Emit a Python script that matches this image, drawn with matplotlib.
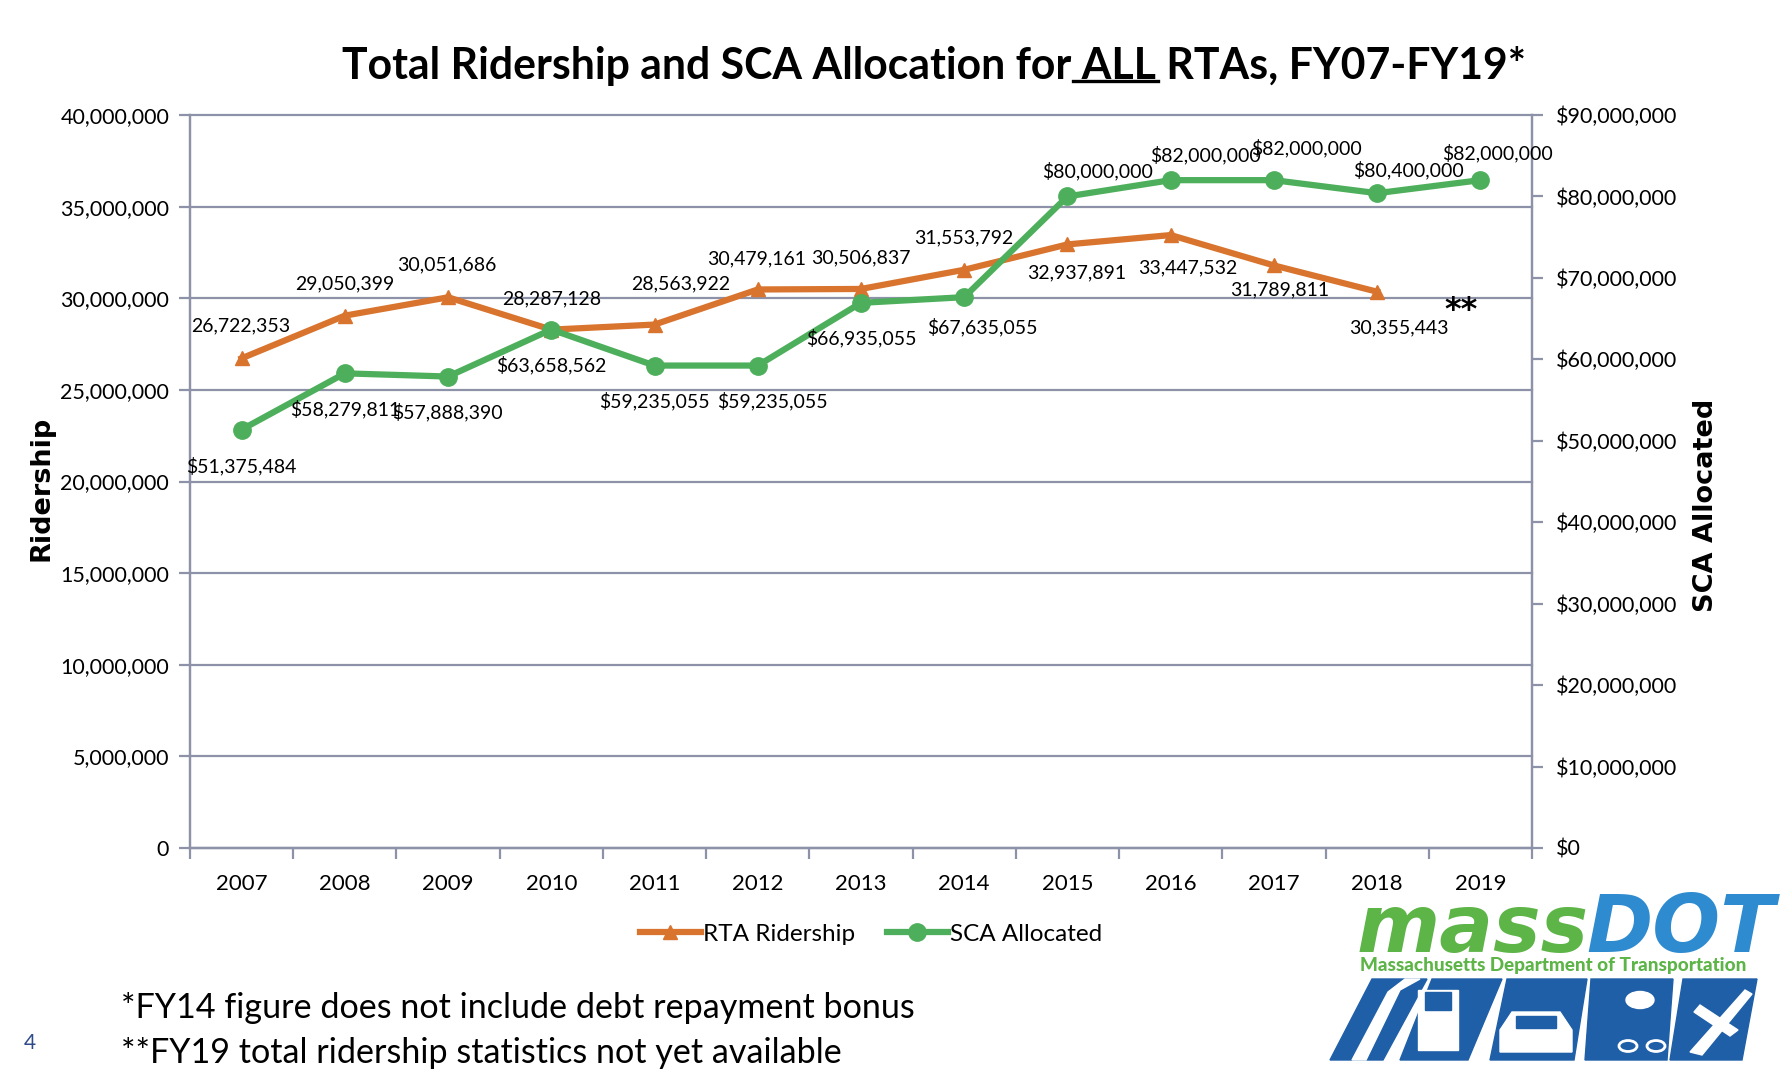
import matplotlib
matplotlib.use("Agg")
import matplotlib.pyplot as plt
from matplotlib.lines import Line2D
from matplotlib.patches import Polygon, Circle, Rectangle
from matplotlib.ticker import FuncFormatter, FixedLocator

# ---------------- data ----------------
years = ["2007", "2008", "2009", "2010", "2011", "2012", "2013",
         "2014", "2015", "2016", "2017", "2018", "2019"]
ridership = [26722353, 29050399, 30051686, 28287128, 28563922, 30479161,
             30506837, 31553792, 32937891, 33447532, 31789811, 30355443]
sca = [51375484, 58279811, 57888390, 63658562, 59235055, 59235055,
       66935055, 67635055, 80000000, 82000000, 82000000, 80400000, 82000000]
left_ticks = [0, 5000000, 10000000, 15000000, 20000000, 25000000,
              30000000, 35000000, 40000000]
right_ticks = [0, 10000000, 20000000, 30000000, 40000000, 50000000,
               60000000, 70000000, 80000000, 90000000]

# label offsets in pixels (x, y up)
rid_off = [(-1, 32), (0, 32), (-1, 32), (0, 31), (26, 41), (-1, 31), (0, 31),
           (0, 32), (9, -28), (17, -33), (6, -24), (22, -36)]
sca_off = [(0, -36), (0, -36), (-1, -36), (0, -36), (0, -35), (15, -35),
           (0, -35), (18, -30), (30, 25), (35, 25), (33, 32), (31, 23), (17, 27)]

W, H = 1780, 1084
FONT = "Lato"
ORANGE = "#D9742E"
GREEN = "#4DAF5B"
GRID = "#8E92A8"

fig = plt.figure(figsize=(W / 100, H / 100), dpi=100)
fig.patch.set_facecolor("white")


def fx(x):
    return x / W


def fy(y):
    return 1 - y / H


L, R, T, B = 190, 1532, 115, 848
ax = fig.add_axes([fx(L), fy(B), (R - L) / W, (B - T) / H])
ax2 = ax.twinx()

x = list(range(len(years)))
ax.set_xlim(-0.5, len(years) - 0.5)
ax.set_ylim(0, 40000000)
ax2.set_ylim(0, 90000000)

for v in left_ticks:
    ax.axhline(v, color=GRID, lw=1.6, zorder=0, clip_on=False)

ax.plot(x[:len(ridership)], ridership, color=ORANGE, lw=4.5, marker="^",
        markersize=10, zorder=3, clip_on=False)
ax2.plot(x, sca, color=GREEN, lw=4.5, marker="o", markersize=12.5, zorder=3,
         clip_on=False)

lblkw = dict(textcoords="offset pixels", ha="center", va="center",
             fontsize=14, family=FONT, color="black", zorder=5)
for i, v in enumerate(ridership):
    ax2.annotate(f"{v:,}", xy=(x[i], v * 90 / 40), xytext=rid_off[i], **lblkw)
for i, v in enumerate(sca):
    ax2.annotate(f"${v:,}", xy=(x[i], v), xytext=sca_off[i], **lblkw)

fig.text(fx(1461), fy(311), "**", ha="center", va="center", fontsize=23,
         fontweight="bold", family="DejaVu Sans")

for a in (ax, ax2):
    for s in a.spines.values():
        s.set_color(GRID)
        s.set_linewidth(1.6)
    a.spines["top"].set_visible(False)

ax.set_yticks(left_ticks)
ax.yaxis.set_major_formatter(FuncFormatter(lambda v, p: f"{int(v):,}"))
ax2.set_yticks(right_ticks)
ax2.yaxis.set_major_formatter(FuncFormatter(lambda v, p: f"${int(v):,}"))
ax.set_xticks(x)
ax.set_xticklabels(years)
ax.xaxis.set_minor_locator(FixedLocator([i - 0.5 for i in range(len(years) + 1)]))
ax.tick_params(axis="x", which="major", length=0, pad=19, labelsize=16)
ax.tick_params(axis="x", which="minor", length=8, width=1.6, color=GRID)
ax.tick_params(axis="y", length=8, width=1.6, color=GRID, pad=7, labelsize=15.5)
ax2.tick_params(axis="y", length=8, width=1.6, color=GRID, pad=9, labelsize=15.5)
for lab in ax.get_xticklabels() + ax.get_yticklabels() + ax2.get_yticklabels():
    lab.set_family(FONT)

ax.patch.set_visible(False)

fig.text(fx(42), fy(488), "Ridership", rotation=90, ha="center", va="center",
         fontsize=19.5, fontweight="bold", family="DejaVu Sans")
fig.text(fx(1706), fy(505), "SCA Allocated", rotation=90, ha="center",
         va="center", fontsize=19.5, fontweight="bold", family="DejaVu Sans")

# title with underlined "ALL"
pre = "Total Ridership and SCA Allocation for"
mid = " ALL"
post = " RTAs, FY07-FY19*"
tkw = dict(fontsize=30.8, fontweight="bold", family=FONT)
title = fig.text(fx(934), fy(66), pre + mid + post, ha="center", va="center", **tkw)
fig.canvas.draw()
rend = fig.canvas.get_renderer()
tb = title.get_window_extent(rend)
tmp = fig.text(0, 0, pre, **tkw)
w_pre = tmp.get_window_extent(rend).width
tmp.set_text(pre + mid)
w_mid = tmp.get_window_extent(rend).width
tmp.remove()
x0 = tb.x0 + w_pre + 2
x1 = tb.x0 + w_mid + 2
yline = tb.y0 + 5
fig.add_artist(Line2D([x0 / W, x1 / W], [yline / H, yline / H],
                      transform=fig.transFigure, color="black", lw=2.4))

# legend
h1 = Line2D([], [], color=ORANGE, lw=4.5, marker="^", markersize=10)
h2 = Line2D([], [], color=GREEN, lw=4.5, marker="o", markersize=12.5)
fig.legend([h1, h2], ["RTA Ridership", "SCA Allocated"], loc="center",
           bbox_to_anchor=(fx(871), fy(934)), ncol=2, frameon=False,
           prop={"family": FONT, "size": 17.5}, handlelength=2.5,
           handletextpad=0.1, columnspacing=1.3)

# footnotes
fig.text(fx(121), fy(1008), "*FY14 figure does not include debt repayment bonus",
         ha="left", va="center", fontsize=24.6, family=FONT)
fig.text(fx(121), fy(1053), "**FY19 total ridership statistics not yet available",
         ha="left", va="center", fontsize=24.6, family=FONT)
fig.text(fx(30), fy(1043), "4", ha="center", va="center", fontsize=15,
         family=FONT, color="#2F4A8A")

# ---------------- massDOT logo ----------------
LG = "#5DB447"
LB = "#2E8BD0"
DB = "#1F5FA8"
lkw = dict(fontsize=50, fontweight="bold", style="oblique",
           family="DejaVu Sans", va="baseline", ha="left")
t_mass = fig.text(fx(1357), fy(952), "mass", color=LG, **lkw)
fig.canvas.draw()
bm = t_mass.get_window_extent(rend)
t_dot = fig.text((bm.x1 - 2) / W, fy(952), "DOT", color=LB, **lkw)
fig.canvas.draw()
bd = t_dot.get_window_extent(rend)
scale = (1776 - 1357) / (bd.x1 - bm.x0)
newsize = 50 * scale
t_mass.set_fontsize(newsize)
t_dot.set_fontsize(newsize)
fig.canvas.draw()
bm = t_mass.get_window_extent(rend)
t_dot.set_x((bm.x1 - 2 * scale) / W)

fig.text(fx(1553), fy(965), "Massachusetts Department of Transportation",
         ha="center", va="center", fontsize=13.6, fontweight="black",
         family=FONT, color=LG)

ytop, ybot = 979, 1060
segs = [((1372, 1427), (1330, 1383)),
        ((1432, 1502), (1400, 1468)),
        ((1507, 1587), (1490, 1574)),
        ((1591, 1673), (1585, 1667)),
        ((1683, 1757), (1670, 1742))]
for (ta, tb2), (ba, bb) in segs:
    fig.add_artist(Polygon([(fx(ta), fy(ytop)), (fx(tb2), fy(ytop)),
                            (fx(bb), fy(ybot)), (fx(ba), fy(ybot))],
                           closed=True, transform=fig.transFigure, color=DB))
wkw = dict(transform=fig.transFigure, color="white")
# road
fig.add_artist(Polygon([(fx(1352), fy(1060)), (fx(1366), fy(1060)),
                        (fx(1400), fy(990)), (fx(1420), fy(979)),
                        (fx(1405), fy(979)), (fx(1388), fy(992))], closed=True, **wkw))
# bus
fig.add_artist(Rectangle((fx(1418), fy(1050)), 40 / W, 60 / H, **wkw))
fig.add_artist(Rectangle((fx(1425), fy(1010)), 26 / W, 18 / H,
                         transform=fig.transFigure, color=DB))
# car
fig.add_artist(Polygon([(fx(1500), fy(1052)), (fx(1572), fy(1052)),
                        (fx(1572), fy(1030)), (fx(1560), fy(1012)),
                        (fx(1512), fy(1012)), (fx(1500), fy(1030))], closed=True, **wkw))
fig.add_artist(Rectangle((fx(1516), fy(1028)), 40 / W, 12 / H,
                         transform=fig.transFigure, color=DB))
# tree + bike
fig.add_artist(Circle((fx(1640), fy(1000)), 14 / W, **wkw))
for cxp in (1628, 1656):
    fig.add_artist(Circle((fx(cxp), fy(1046)), 9 / W, transform=fig.transFigure,
                          facecolor="none", edgecolor="white", lw=2))
# plane
fig.add_artist(Polygon([(fx(1690), fy(1052)), (fx(1745), fy(990)),
                        (fx(1752), fy(994)), (fx(1702), fy(1055))], closed=True, **wkw))
fig.add_artist(Polygon([(fx(1700), fy(1005)), (fx(1738), fy(1030)),
                        (fx(1730), fy(1036)), (fx(1694), fy(1012))], closed=True, **wkw))

fig.savefig("out.png", dpi=100, facecolor="white")
